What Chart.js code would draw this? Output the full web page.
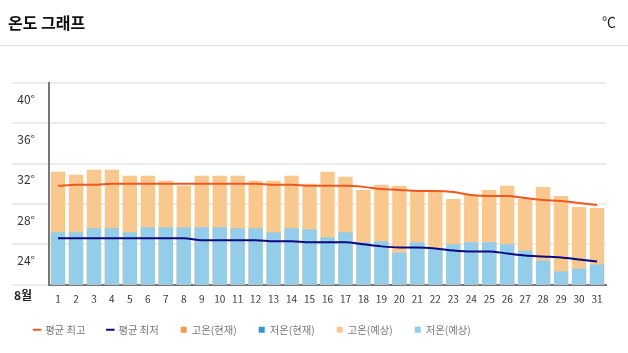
<!DOCTYPE html>
<html>
<head>
<meta charset="utf-8">
<script src="https://cdn.jsdelivr.net/npm/chart.js@4"></script>
<style>
  body { margin: 0; background: #fff; font-family: "Noto Sans CJK KR", "Noto Sans", sans-serif; }
  #wrap { position: relative; width: 628px; height: 353px; overflow: hidden; }
  #head { position: absolute; left: 0; top: 0; width: 628px; height: 45px; border-bottom: 1px solid #ddd; }
  #title { position: absolute; left: 8px; top: 10px; font-size: 16px; font-weight: bold; color: #111; }
  #unit { position: absolute; right: 12px; top: 11px; font-size: 14px; color: #222; }
  #month { position: absolute; left: 14px; top: 286px; font-size: 12px; font-weight: bold; color: #222; }
  #box { position: absolute; left: 0; top: 0; width: 628px; height: 353px; }
</style>
</head>
<body>
<div id="wrap">
  <div id="box"><canvas id="myChart"></canvas></div>
  <div id="head"><span id="title">온도 그래프</span><span id="unit">℃</span></div>
  <div id="month">8월</div>
</div>
<script>
var days = ["1","2","3","4","5","6","7","8","9","10","11","12","13","14","15","16",
  "17","18","19","20","21","22","23","24","25","26","27","28","29","30","31"];

// 평균 최고 / 최저 (선)
var avgHigh = [29.8,29.9,29.9,30.0,30.0,30.0,30.0,30.0,30.0,30.0,30.0,30.0,29.9,29.9,29.8,29.8,
  29.8,29.7,29.5,29.4,29.3,29.3,29.2,28.9,28.8,28.8,28.6,28.4,28.3,28.1,27.9];
var avgLow = [24.6,24.6,24.6,24.6,24.6,24.6,24.6,24.6,24.4,24.4,24.4,24.4,24.3,24.3,24.2,24.2,
  24.2,24.0,23.8,23.7,23.7,23.6,23.4,23.3,23.3,23.1,22.9,22.8,22.7,22.5,22.3];

// 현재 값 (없음)
var highNow = [];
var lowNow = [];

// 예상 값
var highForecast = [31.2,30.9,31.4,31.4,30.8,30.8,30.3,29.8,30.8,30.8,30.8,30.3,30.3,30.8,30.0,31.2,
  30.7,29.4,29.9,29.8,29.3,29.3,28.5,28.9,29.4,29.8,28.5,29.7,28.8,27.7,27.6];
var lowForecast = [25.2,25.2,25.6,25.6,25.2,25.7,25.7,25.7,25.7,25.7,25.6,25.6,25.2,25.6,25.5,24.7,
  25.2,24.2,24.3,23.2,24.2,23.6,24.0,24.2,24.2,24.0,23.4,22.4,21.3,21.6,22.0];

var yTicks = [20, 24, 28, 32, 36, 40];

var ctx = document.getElementById("myChart").getContext("2d");
Chart.defaults.font.family = '"Noto Sans CJK KR", "Noto Sans", sans-serif';

var myChart = new Chart(ctx, {
  type: "bar",
  data: {
    labels: days,
    datasets: [
      { type: "line", label: "평균 최고", data: avgHigh, borderColor: "#f0581f", backgroundColor: "#f0581f",
        borderWidth: 2, pointRadius: 0, tension: 0.4, cubicInterpolationMode: "monotone", order: 0, pointStyle: "line" },
      { type: "line", label: "평균 최저", data: avgLow, borderColor: "#0a0a80", backgroundColor: "#0a0a80",
        borderWidth: 2, pointRadius: 0, tension: 0.4, cubicInterpolationMode: "monotone", order: 0, pointStyle: "line" },
      { label: "고온(현재)", data: highNow, backgroundColor: "#f5994a", order: 3, pointStyle: "rect" },
      { label: "저온(현재)", data: lowNow, backgroundColor: "#3399cc", order: 1, pointStyle: "rect" },
      { label: "고온(예상)", data: highForecast, backgroundColor: "#f9c88f", order: 4, pointStyle: "rect" },
      { label: "저온(예상)", data: lowForecast, backgroundColor: "#93cdea", order: 2, pointStyle: "rect" },
    ],
  },
  options: {
    responsive: true,
    maintainAspectRatio: false,
    animation: false,
    layout: { padding: { left: 12, right: 22, top: 83, bottom: 8 } },
    datasets: { bar: { grouped: false, barPercentage: 0.8, categoryPercentage: 1 } },
    scales: {
      x: {
        grid: { display: false },
        border: { color: "#777", width: 2 },
        ticks: { color: "#333", font: { size: 10 }, padding: 1, maxRotation: 0, autoSkip: false },
        afterFit: function (scale) { scale.height -= 4; },
      },
      y: {
        min: 20,
        max: 40,
        afterBuildTicks: function (scale) {
          scale.ticks = yTicks.map(function (v) { return { value: v }; });
        },
        afterFit: function (scale) { scale.width = 37; },
        grid: { color: "#ececec", lineWidth: 2, tickLength: 37, drawTicks: true },
        border: { color: "#777", width: 2 },
        ticks: {
          color: "#333",
          font: { size: 12 },
          padding: -23,
          labelOffset: 16,
          callback: function (v) { return v === 20 ? "" : v + "°"; },
        },
      },
    },
    plugins: {
      tooltip: { enabled: false },
      legend: {
        position: "bottom",
        align: "start",
        labels: {
          usePointStyle: true,
          boxWidth: 6,
          boxHeight: 6,
          padding: 22,
          color: "#777",
          font: { size: 10.3 },
          sort: function (a, b) { return a.datasetIndex - b.datasetIndex; },
        },
      },
    },
  },
});
</script>
</body>
</html>
